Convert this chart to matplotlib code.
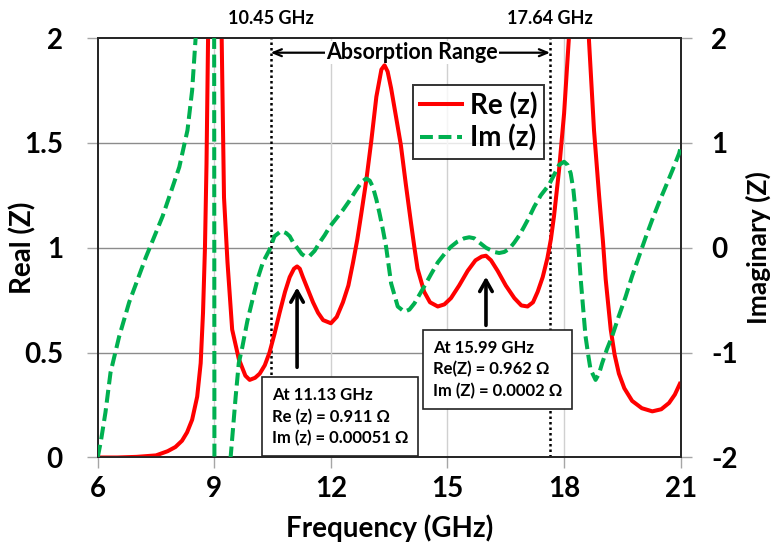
import matplotlib
matplotlib.use("Agg")
import matplotlib.pyplot as plt
from matplotlib.lines import Line2D

plt.rcParams["font.family"] = ["Lato", "DejaVu Sans"]
plt.rcParams["font.weight"] = "bold"
plt.rcParams["axes.unicode_minus"] = False

# Re(Z) read along the frequency axis (GHz); values above 2 leave the frame
freq_re = [6.0, 6.5, 7.0, 7.5, 7.8, 8.0, 8.17, 8.3, 8.43, 8.56, 8.65, 8.71, 8.76, 8.8, 8.84,
           8.95, 9.05, 9.19, 9.25, 9.34, 9.46, 9.63, 9.8, 9.91, 10.05, 10.17, 10.3, 10.42,
           10.55, 10.68, 10.82, 10.94, 11.05, 11.13, 11.2, 11.28, 11.41, 11.54, 11.67, 11.8,
           12.0, 12.15, 12.31, 12.45, 12.57, 12.68, 12.78, 12.91, 13.04, 13.17, 13.3, 13.38,
           13.46, 13.55, 13.68, 13.8, 13.93, 14.06, 14.15, 14.23, 14.4, 14.55, 14.75, 14.92,
           15.09, 15.3, 15.52, 15.72, 15.88, 15.99, 16.12, 16.29, 16.5, 16.72, 16.9, 17.06,
           17.2, 17.32, 17.45, 17.57, 17.66, 17.74, 17.87, 18.0, 18.12, 18.25, 18.38, 18.5,
           18.64, 18.77, 18.9, 19.0, 19.07, 19.2, 19.3, 19.41, 19.55, 19.75, 20.0, 20.27,
           20.5, 20.7, 20.85, 21.0]
re_z = [0.0, 0.0, 0.003, 0.01, 0.03, 0.05, 0.08, 0.12, 0.18, 0.29, 0.45, 0.69, 1.0, 1.4, 2.0,
        3.5, 3.5, 2.0, 1.24, 0.93, 0.61, 0.47, 0.39, 0.37, 0.38, 0.4, 0.44, 0.5,
        0.59, 0.69, 0.79, 0.86, 0.9, 0.911, 0.9, 0.86, 0.8, 0.74, 0.69, 0.655,
        0.64, 0.67, 0.74, 0.82, 0.93, 1.04, 1.16, 1.32, 1.51, 1.72, 1.85, 1.87,
        1.84, 1.76, 1.62, 1.49, 1.3, 1.12, 1.0, 0.9, 0.79, 0.74, 0.72, 0.73,
        0.76, 0.82, 0.89, 0.94, 0.958, 0.962, 0.94, 0.89, 0.82, 0.76, 0.725, 0.72,
        0.74, 0.79, 0.86, 0.95, 1.04, 1.15, 1.37, 1.64, 1.99, 3.0, 3.5, 3.0,
        1.99, 1.56, 1.25, 1.03, 0.85, 0.61, 0.49, 0.4, 0.33, 0.27, 0.235, 0.22,
        0.23, 0.26, 0.3, 0.36]

# Im(Z) on the right axis; the jump near 9 GHz runs past both limits
freq_im = [6.0, 6.08, 6.2, 6.33, 6.55, 6.81, 7.0, 7.24, 7.45, 7.67, 7.9, 8.1, 8.31, 8.43,
           8.52, 8.65, 8.8, 8.99, 9.01, 9.35, 9.42, 9.55, 9.63, 9.72, 9.85, 10.0, 10.12,
           10.25, 10.42, 10.55, 10.72, 10.85, 10.94, 11.03, 11.13, 11.25, 11.33, 11.45,
           11.58, 11.71, 11.84, 11.97, 12.14, 12.31, 12.48, 12.65, 12.8, 12.91, 13.0,
           13.08, 13.17, 13.25, 13.34, 13.42, 13.55, 13.72, 13.89, 14.02, 14.15, 14.4,
           14.58, 14.75, 14.92, 15.09, 15.26, 15.43, 15.56, 15.69, 15.82, 15.99, 16.2,
           16.33, 16.46, 16.59, 16.72, 16.85, 16.97, 17.1, 17.23, 17.4, 17.61, 17.75,
           17.87, 18.0, 18.09, 18.17, 18.24, 18.3, 18.37, 18.43, 18.55, 18.62, 18.68,
           18.81, 18.9, 18.98, 19.1, 19.24, 19.4, 19.58, 19.75, 19.93, 20.1, 20.27,
           20.44, 20.61, 20.8, 20.96, 21.0]
im_z = [-2.0, -1.85, -1.57, -1.19, -0.85, -0.52, -0.33, -0.09, 0.1, 0.3, 0.55, 0.77, 1.12, 1.5,
        2.0, 3.0, 5.0, 6.0, -6.0, -3.0, -2.0, -1.42, -1.1, -0.95, -0.7, -0.47, -0.29,
        -0.14, -0.02, 0.11, 0.16, 0.14, 0.11, 0.05, 0.00051, -0.06, -0.08, -0.08,
        -0.03, 0.05, 0.12, 0.2, 0.28, 0.36, 0.45, 0.55, 0.63, 0.66, 0.64,
        0.58, 0.46, 0.33, 0.17, 0.01, -0.34, -0.56, -0.61, -0.59, -0.53, -0.37,
        -0.25, -0.14, -0.06, 0.01, 0.06, 0.09, 0.1, 0.09, 0.05, 0.0002, -0.04,
        -0.05, -0.04, -0.01, 0.05, 0.12, 0.2, 0.29, 0.39, 0.5, 0.6, 0.7,
        0.79, 0.82, 0.79, 0.71, 0.55, 0.33, 0.0, -0.31, -0.84, -1.02, -1.16,
        -1.26, -1.2, -1.1, -0.97, -0.84, -0.66, -0.47, -0.27, -0.08, 0.1, 0.27,
        0.43, 0.58, 0.75, 0.9, 0.96]

band_edges = [10.45, 17.64]
x_ticks = [6, 9, 12, 15, 18, 21]
re_ticks = [0, 0.5, 1, 1.5, 2]
re_ticklabels = ["0", "0.5", "1", "1.5", "2"]
im_ticks = [-2, -1, 0, 1, 2]

RED = "#ff0000"
GREEN = "#00b050"
TICK_GRAY = "#a6a6a6"

fig = plt.figure(figsize=(7.79, 5.51), dpi=100)
ax = fig.add_axes([0.1254, 0.1697, 0.7484, 0.7613])
ax2 = ax.twinx()

ax.set_xlim(6, 21)
ax.set_ylim(0, 2)
ax2.set_ylim(-2, 2)

# grid: darker horizontals, pale verticals
for y in [0.5, 1.0, 1.5]:
    ax.axhline(y, color="#8c8c8c", lw=1.0, zorder=0)
for x in [9, 12, 15, 18]:
    ax.axvline(x, color="#d0d0d0", lw=1.0, zorder=0)

# absorption band limits
for xb in band_edges:
    ax.axvline(xb, color="black", lw=1.8, linestyle=(0, (1, 1.2)), zorder=1)
    ax.text(xb, 2.095, f"{xb:.2f} GHz", ha="center", va="center", fontsize=13,
            fontweight="bold", clip_on=False)

ax.annotate("", xy=(band_edges[0], 1.93), xytext=(band_edges[1], 1.93),
            arrowprops=dict(arrowstyle="<->, head_length=0.6, head_width=0.25",
                            lw=1.6, color="black", shrinkA=0, shrinkB=0))
ax.text(sum(band_edges) / 2 + 0.05, 1.93, "Absorption Range", ha="center", va="center",
        fontsize=15.5, fontweight="bold", zorder=3,
        bbox=dict(facecolor="white", edgecolor="none", pad=1.0))

ax.plot(freq_re, re_z, color=RED, lw=2.9, zorder=4, solid_capstyle="butt")
ax2.plot(freq_im, im_z, color=GREEN, lw=2.9, dashes=(3.2, 1.4),
         dash_capstyle="butt", zorder=4)

# peak callouts
callouts = [
    (11.13, 0.911, 0.43, (10.48, -1.33), "At 11.13 GHz\nRe (z) = 0.911 Ω\nIm (z) = 0.00051 Ω"),
    (15.99, 0.962, 0.63, (14.63, -0.88), "At 15.99 GHz\nRe(Z) = 0.962 Ω\nIm (Z) = 0.0002 Ω"),
]
for f, val, tail, pos, label in callouts:
    ax.annotate("", xy=(f, val - 0.1), xytext=(f, tail),
                arrowprops=dict(arrowstyle="->, head_length=0.8, head_width=0.45",
                                lw=2.6, color="black", shrinkA=0, shrinkB=0), zorder=5)
    ax2.text(pos[0], pos[1], label, ha="left", va="top", fontsize=12, fontweight="bold",
             linespacing=1.4, zorder=6,
             bbox=dict(boxstyle="square,pad=0.6", facecolor="white",
                       edgecolor="#222222", lw=1.2))

ax.set_xticks(x_ticks)
ax.set_yticks(re_ticks)
ax.set_yticklabels(re_ticklabels)
ax2.set_yticks(im_ticks)

ax.tick_params(axis="x", direction="out", length=8, width=1, color=TICK_GRAY,
               labelsize=20, pad=5)
ax.tick_params(axis="y", direction="out", length=8, width=1, color=TICK_GRAY,
               labelsize=20, pad=17)
ax2.tick_params(axis="y", direction="out", length=8, width=1, color=TICK_GRAY,
                labelsize=20, pad=14)
for lab in ax.get_xticklabels() + ax.get_yticklabels() + ax2.get_yticklabels():
    lab.set_fontweight("bold")

for spine in list(ax.spines.values()) + list(ax2.spines.values()):
    spine.set_color("#262626")
    spine.set_linewidth(1.3)

ax.set_xlabel("Frequency (GHz)", fontsize=20, fontweight="bold")
ax.set_ylabel("Real (Z)", fontsize=20, fontweight="bold")
ax2.set_ylabel("Imaginary (Z)", fontsize=19, fontweight="bold")
ax.xaxis.set_label_coords(0.5, -0.135)
ax.yaxis.set_label_coords(-0.105, 0.5)
ax2.yaxis.set_label_coords(1.112, 0.5)

handles = [Line2D([], [], color=RED, lw=2.9),
           Line2D([], [], color=GREEN, lw=2.9, dashes=(3.2, 1.4), dash_capstyle="butt")]
leg = ax2.legend(handles, ["Re (z)", "Im (z)"], loc="upper left",
                 bbox_to_anchor=(0.541, 0.888), fontsize=20, frameon=True,
                 fancybox=False, handlelength=1.5, handletextpad=0.3,
                 borderpad=0.25, labelspacing=0.2, borderaxespad=0)
leg.get_frame().set_edgecolor("black")
leg.get_frame().set_linewidth(1.4)
leg.set_zorder(7)

fig.savefig("out.png", dpi=100)
